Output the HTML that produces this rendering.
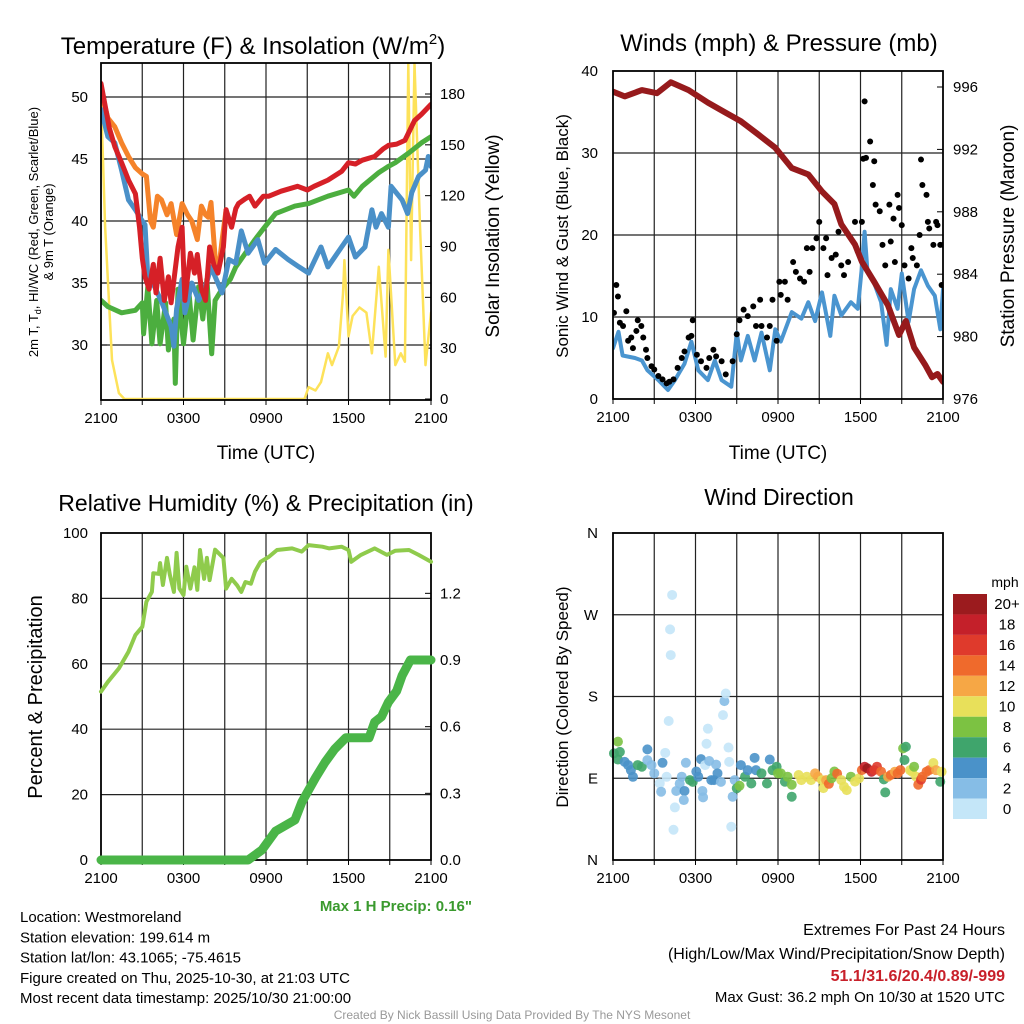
<!DOCTYPE html>
<html><head><meta charset="utf-8"><style>
body{margin:0;background:#fff;width:1024px;height:1024px;overflow:hidden;font-family:"Liberation Sans",sans-serif}
svg{display:block}
text{font-family:"Liberation Sans",sans-serif}
</style></head><body>
<svg id="c" width="1024" height="1024"></svg>
<script>
// ---------- data ----------
const redT=[0,0.6,1.0,1.5,2.0,2.5,2.8,3.0,3.2,3.5,3.8,4.0,4.3,4.6,4.9,5.1,5.6,5.9,6.1,6.5,6.8,7.0,7.3,7.6,7.9,8.2,8.5,8.9,9.1,9.5,9.8,10.0,10.5,10.8,11.2,11.8,12.2,13.1,14.3,15.0,15.5,16.5,17.5,18.0,18.5,19.0,19.9,20.5,20.9,21.5,22.1,22.8,23.3,24];
const redV=[51.1,47.5,46.0,44.7,43.3,42.2,39.5,37,35.5,34.5,36.5,34.2,37,33.6,35.5,33.4,37.9,39.5,33.6,37.4,35.8,37.3,34.5,33.6,37.9,36.5,35.8,37.9,40.9,39.5,41.0,41.4,41.8,42,41.2,42.0,42.0,42.4,42.8,42.5,42.8,43.3,44.0,44.7,44.6,44.9,45.2,45.8,46.1,46.2,46.5,48.1,48.6,49.4];
const orT=[0,0.5,1.0,1.5,2.0,2.5,3.0,3.3,3.6,3.8,4.1,4.4,4.8,5.1,5.5,5.9,6.3,6.6,7.0,7.3,7.6,7.8,8.0,8.3,8.6,8.8,9.1];
const orV=[50.5,48.3,47.6,46.3,45.2,44.3,43.8,43.6,40.0,39.5,42,41.7,40.5,41.4,38.9,41.4,40.5,40.0,38.5,41.2,40.5,40.3,41.5,37.1,36.5,38.4,40.9];
const blT=[0,0.5,1.0,1.5,2.0,2.5,3.0,3.2,3.4,3.9,4.4,5.1,5.3,5.5,5.9,6.1,6.6,7.1,7.6,8.0,8.8,9.3,9.8,10.2,10.7,11.4,11.9,12.7,13.6,14.4,15.1,16.0,16.5,17.5,18.0,18.5,19.2,19.7,20.0,20.4,20.9,21.1,21.9,22.3,22.6,23.1,23.6,23.8,24];
const blV=[49,46.8,46.3,44.1,41.7,40.9,40,39.7,35.5,34.7,33.5,31.5,29.9,32.9,35.3,32.6,35,33.6,34.7,36.3,34.2,36.9,36.6,39.2,37.4,38.5,36.6,37.7,36.9,36.3,35.8,37.9,36.3,37.9,38.7,37.1,37.9,40.9,39.5,40.6,39.5,42.8,41.7,40.6,42.3,43.6,44.1,45.2,44.4];
const grT=[0,0.5,1.5,2.5,3.0,3.1,3.4,3.7,4.05,4.3,4.7,4.9,5.3,5.4,5.6,6.0,6.4,6.7,7.1,7.4,7.7,8.05,8.3,8.8,9.4,9.8,10.5,11.2,11.9,12.7,14.1,15.1,16.5,18.0,18.4,19.0,20.2,20.9,21.4,22.4,23.3,24];
const grV=[33.6,33.1,32.6,32.8,33.4,30.9,34.7,30.1,33.6,30.1,33.4,29.6,32.1,26.9,34.5,30.1,34.2,30.4,34.7,32.1,35.3,29.3,33.6,34.5,35.3,36.3,37.4,38.5,39.5,40.6,41.2,41.4,42,42.5,42,42.8,43.9,44.4,44.7,45.5,46.3,46.8];
const solT=[0,0.3,0.8,1.3,1.7,14.8,15.1,15.6,16.0,16.5,16.8,17.3,17.6,17.7,18.0,18.3,18.8,19.3,19.7,20.2,20.7,20.9,21.4,21.8,22.1,22.35,22.55,22.8,23.2,23.6,24];
const solV=[178,102,23,3.5,0,0,7,5,10,27,20,31,62,82,37,49,54,51,27,78,25,88,20,27,22,198,82,198,102,20,51];
const presT=[0,0.85,2.1,3.2,4.2,5.5,6.9,8.1,9.3,10.5,11.8,13,14.2,15.2,16.1,16.6,17.6,18.1,19,20,20.8,21.3,21.9,22.7,23.2,23.6,24];
const presV=[995.7,995.4,995.8,995.6,996.3,995.8,995,994.4,993.8,993,992.1,990.8,990.4,989.3,988.5,987.2,985.9,984.8,983.5,982,980.1,981,979.3,978.2,977.4,977.6,977.1];
const wsT=[0,0.4,0.7,1.6,2.1,2.5,3.3,4.0,4.5,5.2,5.7,6.2,6.9,7.4,7.9,8.6,9.0,9.3,9.8,10.3,10.8,11.4,11.8,12.2,13.0,13.7,14.2,14.7,15.2,15.8,16.1,16.6,17.3,17.8,18.1,18.3,18.5,19.0,19.5,19.9,20.2,20.7,21.0,21.5,21.9,22.4,22.9,23.4,23.8,24];
const wsV=[6.2,8.2,5.3,5,4.7,3.5,2.3,1.1,2.3,4.3,7,3.5,2.3,4.7,2.3,1.5,8.1,4.7,7.7,4.7,8.1,3.5,8.5,7,10.6,9.8,11.8,9.5,13,7.7,12.6,10.2,11.8,11,16.1,20.4,15.7,14.1,11.8,6.6,13.4,11,15.3,9.4,13.4,15.7,13.8,12.6,8.5,13.4];
const gustT=[0.07,0.24,0.36,0.5,0.73,0.97,1.1,1.33,1.45,1.7,1.8,2.06,2.2,2.4,2.5,2.8,3.0,3.3,3.6,3.9,4.1,4.4,4.7,5.0,5.2,5.5,5.7,5.8,6.1,6.4,6.8,7.0,7.3,7.5,7.9,8.2,8.7,9.0,9.2,9.5,9.8,10.2,10.4,10.7,10.8,11.2,11.4,11.6,11.9,12.1,12.2,12.5,12.7,13.1,13.3,13.6,13.9,14.1,14.3,14.5,14.8,15.0,15.3,15.5,15.6,15.9,16.2,16.4,16.6,16.8,17.1,17.6,17.8,18.1,18.2,18.3,18.4,18.7,18.9,19.0,19.1,19.4,19.6,19.8,20.1,20.2,20.4,20.5,20.7,20.8,21.0,21.2,21.5,21.7,21.8,22.1,22.3,22.4,22.5,22.8,22.9,23.0,23.3,23.5,23.6,23.8,23.9,24];
const gustV=[10.5,13.9,12.5,9.3,8.9,10.7,7.1,7.5,6.2,8.3,9.6,8.9,7.5,6.0,5.0,4.0,3.6,2.8,2.4,1.9,2.1,2.4,3.8,5.0,5.8,7.5,7.7,9.6,5.4,4.6,3.8,5.0,6.0,5.2,4.6,3.0,4.6,7.9,9.6,10.9,10.1,11.3,8.9,12.1,8.9,7.5,8.9,12.1,7.1,14.3,12.7,14.3,12.1,16.7,15.5,14.7,14.3,18.4,15.5,18.4,19.6,21.6,18.4,19.6,15.1,17.2,17.6,20.4,16.3,15.1,16.7,21.6,18.0,21.6,29.3,36.3,29.4,31.4,26.1,29.0,23.7,22.9,18.8,16.3,23.7,19.2,22.0,16.7,24.9,23.3,21.2,16.3,14.7,18.4,17.2,16.3,20.0,29.2,26.1,24.9,21.6,20.8,18.8,21.6,21.2,18.8,13.9,18.8];
const rhT=[0,0.5,1.3,2.0,2.5,3.0,3.3,3.7,3.8,4.2,4.3,4.5,4.8,5.0,5.3,5.5,5.7,6.0,6.2,6.5,6.8,7.0,7.2,7.5,7.7,7.9,8.3,8.9,9.1,9.5,9.9,10.2,10.5,10.9,11.2,11.6,12.2,12.8,13.9,14.6,15.1,16.1,16.6,17.5,18.0,18.2,18.9,19.9,20.8,21.4,22.4,23.1,24];
const rhV=[51.5,54.5,58.6,63.7,68.8,71.3,79,82,87.7,87.5,90.8,84.1,92.4,87.3,82,93.9,83,81,89.7,83,89.5,82.6,94.8,86,92.4,85.6,94.9,92.4,83,86,84,82,85,84.5,88.2,91.2,92.7,94.8,95.3,94.3,96.3,95.8,95.3,95.8,94.8,91.2,93.3,95.3,93.3,94.6,94.8,93.3,91.2];
const prT=[0,10.7,11.7,12.7,14.1,14.6,15.6,16.3,17,17.8,19.5,19.9,20.4,20.9,21.5,21.9,22.5,24];
const prV=[0,0,0.045,0.13,0.18,0.26,0.37,0.44,0.5,0.55,0.55,0.62,0.645,0.71,0.76,0.83,0.9,0.9];
const dirT=[0.36,0.07,0.5,0.36,0.85,1.1,1.3,1.45,1.8,2.1,2.5,2.5,2.8,3.0,3.4,3.5,3.6,3.8,3.9,4.05,4.15,4.2,4.3,4.5,4.4,4.6,4.85,5.0,5.2,5.15,5.3,5.6,5.8,6.06,6.2,6.4,6.5,6.55,6.7,6.8,6.9,7.0,7.15,7.35,7.5,7.6,7.85,8.0,8.1,8.2,8.4,8.45,8.6,8.7,8.85,9.0,9.2,9.3,9.6,9.8,10.06,10.3,10.4,10.8,11.2,11.4,11.6,11.9,12.0,12.2,12.5,12.7,13.0,13.0,13.5,13.7,14.1,14.4,14.7,14.9,15.2,15.3,15.5,15.7,15.9,16.1,16.3,16.6,16.8,17.0,17.3,17.6,17.9,18.1,18.3,18.5,18.8,19.0,19.2,19.5,19.7,19.8,20.0,20.2,20.5,20.7,20.9,21.1,21.3,21.2,21.6,21.75,21.9,22.05,22.2,22.4,22.5,22.8,23.0,23.3,23.5,23.8,23.9];
const dirV=[130.3,117.4,119,110.6,108,104.5,98.9,91.6,104.5,102.7,121.8,110,104.5,95.4,84.4,75.2,107,118,91.6,153,253.9,225.6,291.8,57.9,33.3,76,84,91.7,76,66,107,88,86,97.4,91.7,111,76,69,104.5,128,144.6,109,88,88,105,95.4,86,159.5,174.9,183.3,123.8,108,36.6,69.7,88,79,81.7,104.5,91.7,98.9,84.2,112.5,98.9,95.4,84.2,110.6,98.9,102.7,95.4,95.4,86.2,91.7,82.9,69.7,93.6,88,91.7,88,95.4,91.7,88,79.1,88,83.9,90,97.4,95,88,80.7,76.9,91.7,86.3,90,99,102.7,100.9,97.2,99,102.7,97.2,88.8,74.4,91.7,93.6,97.2,95.4,99,122.9,124.7,110.1,98.9,97.2,102.7,91.7,82.9,88.4,91.7,97.2,99,106.8,98.9,86.2,97.2];
const dirS=[8,6,6,6,4,4,4,4,6,6,4,2,2,2,0,2,4,0,0,0,0,0,0,0,0,2,2,2,4,2,2,6,6,4,4,4,2,2,0,0,0,2,4,4,2,4,2,0,2,0,0,0,0,2,2,6,8,4,6,4,6,4,4,6,6,4,6,6,8,8,6,8,8,6,10,10,10,10,12,12,10,10,12,14,8,8,14,10,10,10,8,10,10,14,18,20,18,16,16,14,6,6,12,14,12,14,14,8,6,6,10,10,8,10,14,16,14,14,14,10,12,6,10];
const xTicks=["2100","0300","0900","1500","2100"];
const tLeftTicks=[30,35,40,45,50];
const tRightTicks=[0,30,60,90,120,150,180];
const wLeftTicks=[0,10,20,30,40];
const wRightTicks=[976,980,984,988,992,996];
const rhLeftTicks=[0,20,40,60,80,100];
const rhRightTicks=["0.0","0.3","0.6","0.9","1.2"];
const dirTicks=[[0,"N"],[90,"E"],[180,"S"],[270,"W"],[360,"N"]];
const cbLabels=["20+","18","16","14","12","10","8","6","4","2","0"];
const cbColors=["#9b1b1e","#c4202a","#df3a2c","#ef6a2c","#f6a745","#e8e05a","#7cc242","#3fa56c","#4a92c9","#86bde6","#c4e6f8"];

// ---------- helpers ----------
const NS="http://www.w3.org/2000/svg";
const svg=document.getElementById('c');
function mk(tag,attrs,parent){const e=document.createElementNS(NS,tag);for(const k in attrs)e.setAttribute(k,attrs[k]);(parent||svg).appendChild(e);return e;}
function txt(s,x,y,size,anchor,parent,extra){const e=mk('text',Object.assign({x:x,y:y,'font-size':size,'text-anchor':anchor||'middle',fill:'#000'},extra||{}),parent);e.textContent=s;return e;}
function scale(d0,d1,r0,r1){return v=>r0+(v-d0)/(d1-d0)*(r1-r0);}
function path(xs,ys,sx,sy,color,w,parent){let d='';for(let i=0;i<xs.length;i++)d+=(i?'L':'M')+sx(xs[i]).toFixed(1)+','+sy(ys[i]).toFixed(1);return mk('path',{d:d,fill:'none',stroke:color,'stroke-width':w,'stroke-linejoin':'round','stroke-linecap':'round'},parent);}
function frame(x0,x1,y0,y1,name){
  const g=mk('g',{});
  
  
  for(let h=3;h<24;h+=3){const x=x0+h/24*(x1-x0);mk('line',{x1:x,x2:x,y1:y0,y2:y1,stroke:'#222','stroke-width':1.2},g);}
  const sx=scale(0,24,x0,x1);
  xTicks.forEach((t,i)=>{const x=sx(i*6);const e=txt(t,x,y1+23,15,'middle',g);});
  for(let h=0;h<=24;h+=3){const x=sx(h);mk('line',{x1:x,x2:x,y1:y1,y2:y1+5,stroke:'#000','stroke-width':1},g);}
  return g;
}
function border(x0,x1,y0,y1,parent){mk('rect',{x:x0,y:y0,width:x1-x0,height:y1-y0,fill:'none',stroke:'#000','stroke-width':1.8},parent);}
function clip(id,x0,x1,y0,y1){const c=mk('clipPath',{id:id});mk('rect',{x:x0,y:y0,width:x1-x0,height:y1-y0},c);}

// ---------- panel 1 temperature ----------
(function(){
const x0=101,x1=431,y0=63,y1=400;
const sx=scale(0,24,x0,x1), sy=scale(30,50,345,97), sr=scale(0,180,399,94);
clip('c1',x0,x1,y0-2,y1);
const g=frame(x0,x1,y0,y1,'temperature-panel');
tLeftTicks.forEach(v=>{const y=sy(v);mk('line',{x1:x0,x2:x1,y1:y,y2:y,stroke:'#222','stroke-width':1.2},g);txt(String(v),88,y+5,15,'end',g);mk('line',{x1:x0,x2:x0+6,y1:y,y2:y,stroke:'#000'},g);});
tRightTicks.forEach(v=>{const y=sr(v);txt(String(v),440,y+5,15,'start',g);mk('line',{x1:x1-6,x2:x1,y1:y,y2:y,stroke:'#000'},g);});
const d=mk('g',{'clip-path':'url(#c1)'},g);
const s1=path(solT,solV,sx,sr,'#fde25a',2.5,d);
const s2=path(grT,grV,sx,sy,'#4cae3f',5,d);
const s3=path(orT,orV,sx,sy,'#f5832a',5,d);
const s4=path(blT,blV,sx,sy,'#4a90c8',5,d);
const s5=path(redT,redV,sx,sy,'#d62027',5,d);
border(x0,x1,y0,y1,g);
const t=txt('Temperature (F) & Insolation (W/m',253,54,24,'middle',g);
const sup=mk('tspan',{'font-size':15,dy:-10},t);sup.textContent='2';
const cl=mk('tspan',{'font-size':24,dy:10},t);cl.textContent=')';
const a=txt('',38,232,13,'middle',g,{transform:'rotate(-90 38 232)'});
a.innerHTML='2m T, T<tspan font-size="9" dy="3">d</tspan><tspan dy="-3">, HI/WC (Red, Green, Scarlet/Blue)</tspan>';
const a2=txt('& 9m T (Orange)',53,232,13,'middle',g,{transform:'rotate(-90 53 232)'});
const r=txt('Solar Insolation (Yellow)',499,236,19,'middle',g,{transform:'rotate(-90 499 236)'});
const xt=txt('Time (UTC)',266,459,19,'middle',g);
})();

// ---------- panel 2 winds ----------
(function(){
const x0=613,x1=943,y0=71,y1=399;
const sx=scale(0,24,x0,x1), sy=scale(0,40,399,71), sp=scale(976,996,399,87);
clip('c2',x0,x1,y0,y1);
const g=frame(x0,x1,y0,y1,'winds-panel');
wLeftTicks.forEach(v=>{const y=sy(v);if(v>0&&v<40)mk('line',{x1:x0,x2:x1,y1:y,y2:y,stroke:'#222','stroke-width':1.2},g);txt(String(v),598,y+5,15,'end',g);});
wRightTicks.forEach(v=>{const y=sp(v);txt(String(v),953,y+5,15,'start',g);mk('line',{x1:x1-6,x2:x1,y1:y,y2:y,stroke:'#000'},g);});
const d=mk('g',{'clip-path':'url(#c2)'},g);
const w=path(wsT,wsV,sx,sy,'#4a95d0',4,d);
for(let i=0;i<gustT.length;i++){const c=mk('circle',{cx:sx(gustT[i]),cy:sy(gustV[i]),r:3,fill:'#000'},d);

}
const p=path(presT,presV,sx,sp,'#961a1c',6,d);
border(x0,x1,y0,y1,g);
const t=txt('Winds (mph) & Pressure (mb)',779,51,24,'middle',g);
const a=txt('Sonic Wind & Gust (Blue, Black)',568,236,17,'middle',g,{transform:'rotate(-90 568 236)'});
const r=txt('Station Pressure (Maroon)',1014,236,19,'middle',g,{transform:'rotate(-90 1014 236)'});
const xt=txt('Time (UTC)',778,459,19,'middle',g);
})();

// ---------- panel 3 RH ----------
(function(){
const x0=101,x1=431,y0=533,y1=860;
const sx=scale(0,24,x0,x1), sy=scale(0,100,860,533), sp=scale(0,0.9,860,660);
clip('c3',x0-6,x1+6,y0,y1+6);
const g=frame(x0,x1,y0,y1,'humidity-panel');
rhLeftTicks.forEach(v=>{const y=sy(v);if(v>0&&v<100)mk('line',{x1:x0,x2:x1,y1:y,y2:y,stroke:'#222','stroke-width':1.2},g);txt(String(v),88,y+5,15,'end',g);});
rhRightTicks.forEach(v=>{const y=sp(parseFloat(v));txt(v,440,y+5,15,'start',g);mk('line',{x1:x1-6,x2:x1,y1:y,y2:y,stroke:'#000'},g);});
border(x0,x1,y0,y1,g);
const d=mk('g',{'clip-path':'url(#c3)'},g);
const h=path(rhT,rhV,sx,sy,'#8fcb4c',4,d);
const p=path(prT,prV,sx,sp,'#4ab548',9,d);
const t=txt('Relative Humidity (%) & Precipitation (in)',266,511,23,'middle',g);
const a=txt('Percent & Precipitation',42,697,20,'middle',g,{transform:'rotate(-90 42 697)'});
const m=txt('Max 1 H Precip: 0.16"',472,911,15,'end',g,{fill:'#3a9a2e','font-weight':'bold'});
})();

// ---------- panel 4 wind direction ----------
(function(){
const x0=613,x1=943,y0=533,y1=860;
const sx=scale(0,24,x0,x1), sy=scale(0,360,860,533);
const g=frame(x0,x1,y0,y1,'wind-direction-panel');
dirTicks.forEach(([v,l])=>{const y=sy(v);if(v>0&&v<360)mk('line',{x1:x0,x2:x1,y1:y,y2:y,stroke:'#222','stroke-width':1.2},g);txt(l,598,y+5,15,'end',g);});
const colFor=s=>cbColors[10-Math.min(10,Math.floor(s/2))];
for(let i=0;i<dirT.length;i++){const c=mk('circle',{cx:sx(dirT[i]),cy:sy(dirV[i]),r:5,fill:colFor(dirS[i]),opacity:0.9},g);

}
border(x0,x1,y0,y1,g);
const t=txt('Wind Direction',779,505,23,'middle',g);
const a=txt('Direction (Colored By Speed)',568,697,17,'middle',g,{transform:'rotate(-90 568 697)'});
const cb=mk('g',{},g);
const bh=225/11;
cbColors.forEach((c,i)=>{mk('rect',{x:953,y:594+i*bh,width:34,height:bh,fill:c},cb);txt(cbLabels[i],1007,594+i*bh+bh/2+5,15,'middle',cb);});
txt('mph',1005,587,14,'middle',cb);
})();

// ---------- footer text ----------
(function(){
const g=mk('g',{});
['Location: Westmoreland','Station elevation: 199.614 m','Station lat/lon: 43.1065; -75.4615','Figure created on Thu, 2025-10-30, at 21:03 UTC','Most recent data timestamp: 2025/10/30 21:00:00'].forEach((s,i)=>txt(s,20,922+i*20.3,15,'start',g));
const e=mk('g',{});
txt('Extremes For Past 24 Hours',1005,935,16,'end',e);
txt('(High/Low/Max Wind/Precipitation/Snow Depth)',1005,959,16,'end',e);
txt('51.1/31.6/20.4/0.89/-999',1005,981,16,'end',e,{fill:'#c8202a','font-weight':'bold'});
txt('Max Gust: 36.2 mph On 10/30 at 1520 UTC',1005,1002,15,'end',e);
const f=txt('Created By Nick Bassill Using Data Provided By The NYS Mesonet',512,1019,12,'middle',null,{fill:'#999'});

})();
</script>
</body></html>
